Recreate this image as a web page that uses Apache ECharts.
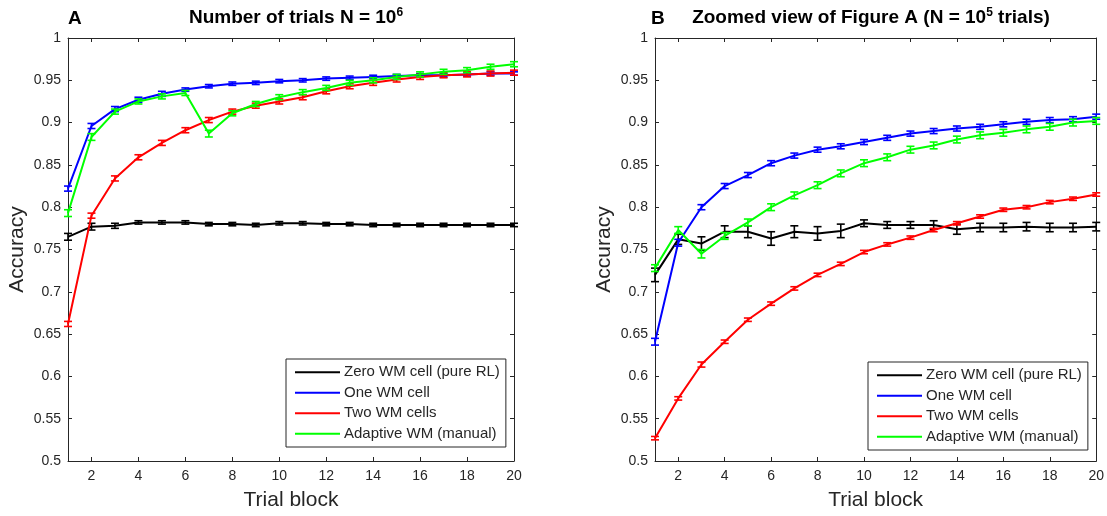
<!DOCTYPE html>
<html><head><meta charset="utf-8">
<script src="https://cdn.jsdelivr.net/npm/echarts@6/dist/echarts.min.js"></script>
<style>html,body{margin:0;padding:0;background:#fff}#c{width:1107px;height:516px}</style>
</head><body><div id="c"></div>
<script>
const blocks = [1,2,3,4,5,6,7,8,9,10,11,12,13,14,15,16,17,18,19,20];
const seriesNames = ['Zero WM cell (pure RL)','One WM cell','Two WM cells','Adaptive WM (manual)'];
const seriesColors = ['#000000','#0000ff','#ff0000','#00ff00'];
const xTicks = [2,4,6,8,10,12,14,16,18,20];
const yTicks = [0.5,0.55,0.6,0.65,0.7,0.75,0.8,0.85,0.9,0.95,1];

// Panel A (N = 10^6)
const A_zero  = [0.765,0.777,0.778,0.782,0.782,0.782,0.780,0.780,0.779,0.781,0.781,0.780,0.780,0.779,0.779,0.779,0.779,0.779,0.779,0.779];
const A_one   = [0.822,0.896,0.916,0.927,0.934,0.939,0.943,0.946,0.947,0.949,0.950,0.952,0.953,0.954,0.955,0.956,0.956,0.957,0.958,0.958];
const A_two   = [0.662,0.790,0.834,0.859,0.876,0.891,0.903,0.913,0.920,0.925,0.930,0.937,0.943,0.947,0.951,0.954,0.956,0.957,0.958,0.959];
const A_adapt = [0.793,0.883,0.913,0.925,0.931,0.935,0.887,0.911,0.922,0.930,0.936,0.941,0.947,0.950,0.954,0.957,0.960,0.962,0.966,0.969];
const A_zero_err  = [0.004,0.004,0.003,0.002,0.002,0.002,0.002,0.002,0.002,0.002,0.002,0.002,0.002,0.002,0.002,0.002,0.002,0.002,0.002,0.002];
const A_one_err   = [0.003,0.003,0.003,0.003,0.003,0.002,0.002,0.002,0.002,0.002,0.002,0.002,0.002,0.002,0.002,0.002,0.002,0.002,0.002,0.002];
const A_two_err   = [0.003,0.003,0.003,0.003,0.003,0.003,0.003,0.003,0.003,0.003,0.003,0.003,0.003,0.003,0.003,0.003,0.003,0.003,0.003,0.003];
const A_adapt_err = [0.004,0.004,0.003,0.003,0.003,0.003,0.004,0.003,0.003,0.003,0.003,0.003,0.003,0.003,0.003,0.003,0.003,0.003,0.003,0.003];

// Panel B (N = 10^5)
const B_zero  = [0.720,0.762,0.757,0.771,0.771,0.763,0.771,0.769,0.772,0.781,0.779,0.779,0.779,0.774,0.776,0.776,0.777,0.776,0.776,0.777];
const B_one   = [0.641,0.758,0.800,0.825,0.838,0.852,0.861,0.868,0.872,0.877,0.882,0.887,0.890,0.893,0.895,0.898,0.901,0.903,0.904,0.907];
const B_two   = [0.527,0.574,0.614,0.641,0.667,0.686,0.704,0.720,0.733,0.747,0.756,0.764,0.773,0.781,0.789,0.797,0.800,0.806,0.810,0.815];
const B_adapt = [0.728,0.773,0.745,0.766,0.782,0.800,0.814,0.826,0.840,0.852,0.859,0.868,0.873,0.880,0.885,0.888,0.892,0.895,0.900,0.902];
const B_zero_err  = [0.008,0.006,0.008,0.007,0.007,0.008,0.007,0.008,0.008,0.004,0.004,0.004,0.005,0.006,0.005,0.005,0.005,0.005,0.005,0.005];
const B_one_err   = [0.004,0.004,0.003,0.003,0.003,0.003,0.003,0.003,0.003,0.003,0.003,0.003,0.003,0.003,0.003,0.003,0.003,0.003,0.003,0.003];
const B_two_err   = [0.002,0.002,0.003,0.002,0.002,0.002,0.002,0.002,0.002,0.002,0.002,0.002,0.002,0.002,0.002,0.002,0.002,0.002,0.002,0.002];
const B_adapt_err = [0.004,0.004,0.005,0.004,0.004,0.004,0.004,0.004,0.004,0.004,0.004,0.004,0.004,0.004,0.004,0.004,0.004,0.004,0.004,0.004];

const panelA = [A_zero, A_one, A_two, A_adapt];
const panelAErr = [A_zero_err, A_one_err, A_two_err, A_adapt_err];
const panelB = [B_zero, B_one, B_two, B_adapt];
const panelBErr = [B_zero_err, B_one_err, B_two_err, B_adapt_err];

const FONT = 'Liberation Sans';
const TXT = '#262626';
const chart = echarts.init(document.getElementById('c'));

function xAxisFor(gi, pos, labels) {
  return {
    type: 'value', gridIndex: gi, position: pos, min: 1, max: 20,
    name: labels ? 'Trial block' : '', nameLocation: 'middle', nameGap: 29,
    nameTextStyle: {fontFamily: FONT, fontSize: 21, color: TXT},
    axisLine: {show: true, onZero: false, lineStyle: {color: TXT, width: 1}},
    axisTick: {show: true, inside: true, length: 4, customValues: xTicks, lineStyle: {color: TXT}},
    axisLabel: {show: labels, customValues: xTicks, fontFamily: FONT, fontSize: 14, color: TXT, margin: 8},
    splitLine: {show: false}
  };
}
function yAxisFor(gi, pos, labels) {
  return {
    type: 'value', gridIndex: gi, position: pos, min: 0.5, max: 1, interval: 0.05,
    name: labels ? 'Accuracy' : '', nameLocation: 'middle', nameGap: 40,
    nameTextStyle: {fontFamily: FONT, fontSize: 21, color: TXT},
    axisLine: {show: true, onZero: false, lineStyle: {color: TXT, width: 1}},
    axisTick: {show: true, inside: true, length: 4, lineStyle: {color: TXT}},
    axisLabel: {show: labels, fontFamily: FONT, fontSize: 14, color: TXT, margin: 7,
      formatter: v => String(Math.round(v * 100) / 100)},
    splitLine: {show: false}
  };
}

const series = [];
function addPanel(vals, errs, xi, yi) {
  vals.forEach((arr, k) => {
    series.push({
      type: 'line', name: seriesNames[k], xAxisIndex: xi, yAxisIndex: yi,
      data: blocks.map((b, i) => [b, arr[i]]), showSymbol: false, symbol: 'none',
      lineStyle: {color: seriesColors[k], width: 2}, itemStyle: {color: seriesColors[k]},
      z: 3 + k, animation: false
    });
    series.push({
      type: 'custom', name: 'err' + xi + '_' + k, xAxisIndex: xi, yAxisIndex: yi,
      data: blocks.map((b, i) => [b, arr[i] - errs[k][i], arr[i] + errs[k][i]]),
      renderItem: (params, api) => {
        const lo = api.coord([api.value(0), api.value(1)]);
        const hi = api.coord([api.value(0), api.value(2)]);
        const w = 4;
        const st = {stroke: seriesColors[k], lineWidth: 1.6};
        return {type: 'group', children: [
          {type: 'line', shape: {x1: lo[0], y1: lo[1], x2: hi[0], y2: hi[1]}, style: st},
          {type: 'line', shape: {x1: lo[0] - w, y1: lo[1], x2: lo[0] + w, y2: lo[1]}, style: st},
          {type: 'line', shape: {x1: hi[0] - w, y1: hi[1], x2: hi[0] + w, y2: hi[1]}, style: st}
        ]};
      },
      z: 3 + k, animation: false, silent: true
    });
  });
}
addPanel(panelA, panelAErr, 0, 0);
addPanel(panelB, panelBErr, 2, 2);

const legendBase = {
  orient: 'vertical', data: seriesNames, icon: 'rect', itemWidth: 45, itemHeight: 2,
  itemGap: 4, padding: [5, 6, 5, 9], borderColor: '#262626', borderWidth: 1, backgroundColor: '#fff',
  textStyle: {fontFamily: FONT, fontSize: 15, lineHeight: 16.5, color: TXT, padding: [0,0,0,-1]}, selectedMode: false
};

const titleRich = {
  t: {fontFamily: FONT, fontSize: 19, fontWeight: 'bold', color: '#000', verticalAlign: 'bottom'},
  s: {fontFamily: FONT, fontSize: 12, fontWeight: 'bold', color: '#000', verticalAlign: 'top', padding: [0,0,8,0]}
};

chart.setOption({
  animation: false,
  title: [
    {text: 'A', left: 63, top: 4, textStyle: {fontFamily: FONT, fontSize: 19, fontWeight: 'bold', color: '#000'}},
    {text: '{t|Number of trials N = 10}{s|6}', left: 291, top: 2, textAlign: 'center', textStyle: {rich: titleRich}},
    {text: 'B', left: 646, top: 4, textStyle: {fontFamily: FONT, fontSize: 19, fontWeight: 'bold', color: '#000'}},
    {text: '{t|Zoomed view of Figure A (N = 10}{s|5}{t| trials)}', left: 866, top: 2, textAlign: 'center', textStyle: {rich: titleRich}}
  ],
  legend: [
    Object.assign({}, legendBase, {left: 286, top: 359}),
    Object.assign({}, legendBase, {left: 868, top: 362})
  ],
  grid: [
    {left: 68, right: 593, top: 38, bottom: 53, show: false},
    {left: 655, right: 10, top: 38, bottom: 53, show: false}
  ],
  xAxis: [xAxisFor(0, 'bottom', true), xAxisFor(0, 'top', false), xAxisFor(1, 'bottom', true), xAxisFor(1, 'top', false)],
  yAxis: [yAxisFor(0, 'left', true), yAxisFor(0, 'right', false), yAxisFor(1, 'left', true), yAxisFor(1, 'right', false)],
  series: series
});
</script></body></html>
